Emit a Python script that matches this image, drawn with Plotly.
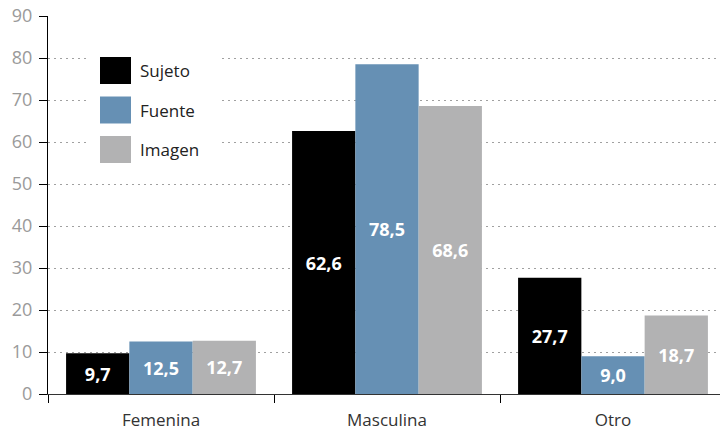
import plotly.graph_objects as go

categories = ["Femenina", "Masculina", "Otro"]
series_names = ["Sujeto", "Fuente", "Imagen"]
sujeto = [9.7, 62.6, 27.7]
fuente = [12.5, 78.5, 9.0]
imagen = [12.7, 68.6, 18.7]
colors = ["#000000", "#6690b4", "#b2b2b3"]

W, H = 720, 431
L, T, B = 48, 16, 37
pw, ph = W - L, H - T - B


def px_x(x):
    return (x - L) / pw


def px_y(y):
    return (H - B - y) / ph


def fmt(v):
    return f"{v:.1f}".replace(".", ",")


fig = go.Figure()
for name, vals, col in zip(series_names, [sujeto, fuente, imagen], colors):
    fig.add_trace(go.Bar(
        x=categories, y=vals, name=name, marker=dict(color=col, line=dict(width=0)),
        text=[fmt(v) for v in vals], textposition="inside", insidetextanchor="middle",
        textangle=0, constraintext="none",
        textfont=dict(family="Open Sans", size=18, color="white", weight="bold"),
        showlegend=False,
    ))

# legend drawn by hand (large square swatches)
shapes = [dict(type="rect", xref="paper", yref="paper", x0=px_x(88), x1=px_x(218),
               y0=px_y(174), y1=px_y(44), fillcolor="white", line=dict(width=0), layer="above")]
annotations = []
for i, (name, col) in enumerate(zip(series_names, colors)):
    top = 57 + i * 39.5
    shapes.append(dict(type="rect", xref="paper", yref="paper", x0=px_x(100), x1=px_x(131),
                       y0=px_y(top + 27), y1=px_y(top), fillcolor=col, line=dict(width=0), layer="above"))
    annotations.append(dict(text=name, xref="paper", yref="paper", x=px_x(138), y=px_y(top + 13.5),
                            xanchor="left", yanchor="middle", showarrow=False,
                            font=dict(family="Open Sans", size=17, color="#222222")))

fig.update_layout(
    width=W, height=H, margin=dict(l=L, r=0, t=T, b=B),
    paper_bgcolor="white", plot_bgcolor="white",
    barmode="group", bargap=0.16, bargroupgap=0,
    shapes=shapes, annotations=annotations,
    font=dict(family="Open Sans"),
    xaxis=dict(range=[-0.5, -0.5 + pw / 226], tickson="boundaries", ticks="outside", ticklen=8,
               tickcolor="#000", showline=True, linecolor="#333", linewidth=1, showgrid=False,
               ticklabelstandoff=11, tickfont=dict(size=17, color="#333333")),
    yaxis=dict(range=[0, 90], dtick=10, ticks="outside", ticklen=8, tickcolor="#000",
               showline=True, linecolor="#000", linewidth=1, zeroline=False,
               showgrid=True, gridcolor="#a0a0a0", griddash="2px,4px", gridwidth=1,
               ticklabelstandoff=3, tickfont=dict(size=18, color="#9a9a9a")),
)

fig.write_html("out.html", config={"displayModeBar": False},
               post_script="document.body.style.margin='0';")
